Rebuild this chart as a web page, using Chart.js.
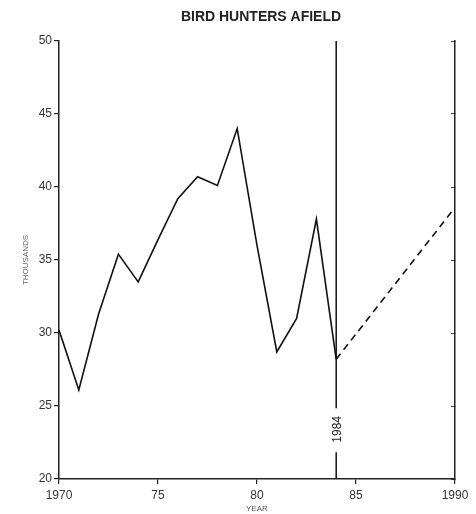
<!DOCTYPE html>
<html>
<head>
<meta charset="utf-8">
<script src="https://cdn.jsdelivr.net/npm/chart.js@4/dist/chart.umd.min.js"></script>
<style>
  body { margin: 0; background: #fff; }
  canvas { display: block; }
</style>
</head>
<body>
<canvas id="hunters-chart" width="476" height="514"></canvas>
<script>
Chart.defaults.font.family = '"Liberation Sans", Arial, sans-serif';
Chart.defaults.color = '#333';

// data
const titleText = 'BIRD HUNTERS AFIELD';
const years = [1970, 1971, 1972, 1973, 1974, 1975, 1976, 1977, 1978, 1979, 1980, 1981, 1982, 1983, 1984];
const hunters = [30.2, 26.1, 31.3, 35.4, 33.5, 36.4, 39.2, 40.7, 40.1, 44.0, 36.0, 28.7, 31.0, 37.8, 28.2];
const projYears = [1984, 1990];
const projHunters = [28.2, 38.6];
const xTicks = [1970, 1975, 1980, 1985, 1990];
const xTickLabels = ['1970', '75', '80', '85', '1990'];
const markerYear = 1984;

const overlay = {
  id: 'overlay',
  afterDraw(chart) {
    const { ctx, chartArea, scales } = chart;
    ctx.save();
    // title
    ctx.font = 'bold 14px "Liberation Sans", Arial, sans-serif';
    ctx.fillStyle = '#222';
    ctx.textAlign = 'center';
    ctx.textBaseline = 'alphabetic';
    ctx.fillText(titleText, (chartArea.left + chartArea.right) / 2 + 4, 21);
    // 1984 line with its label
    const x = scales.x.getPixelForValue(markerYear);
    const yMid = scales.y.getPixelForValue(23.4);
    ctx.strokeStyle = '#111';
    ctx.lineWidth = 1.5;
    ctx.beginPath();
    ctx.moveTo(x, chartArea.top);
    ctx.lineTo(x, yMid - 21);
    ctx.moveTo(x, yMid + 23);
    ctx.lineTo(x, chartArea.bottom);
    ctx.stroke();
    ctx.translate(x, yMid);
    ctx.rotate(-Math.PI / 2);
    ctx.font = '12px "Liberation Sans", Arial, sans-serif';
    ctx.textBaseline = 'middle';
    ctx.fillStyle = '#222';
    ctx.fillText(String(markerYear), 0, 1);
    ctx.restore();
  }
};

const ctx = document.getElementById('hunters-chart');
const chart = new Chart(ctx, {
  type: 'line',
  data: {
    datasets: [
      {
        label: 'Hunters',
        data: years.map((yr, i) => ({ x: yr, y: hunters[i] })),
        borderColor: '#111',
        borderWidth: 1.6,
        pointRadius: 0,
        tension: 0,
        yAxisID: 'y',
      },
      {
        label: 'Projection',
        data: projYears.map((yr, i) => ({ x: yr, y: projHunters[i] })),
        borderColor: '#111',
        borderWidth: 1.6,
        borderDash: [7, 5],
        pointRadius: 0,
        tension: 0,
        yAxisID: 'y',
      },
    ],
  },
  options: {
    responsive: false,
    animation: false,
    layout: { padding: { top: 41, left: 0, right: 0, bottom: 0 } },
    plugins: {
      legend: { display: false },
      tooltip: { enabled: false },
    },
    scales: {
      x: {
        type: 'linear',
        min: 1970,
        max: 1990,
        afterBuildTicks: (scale) => {
          scale.ticks = xTicks.map((v) => ({ value: v }));
        },
        afterFit: (scale) => { scale.height = 35; },
        ticks: {
          font: { size: 12 },
          color: '#333',
          padding: 4,
          maxRotation: 0,
          callback: (value) => xTickLabels[xTicks.indexOf(value)],
        },
        grid: { drawOnChartArea: false, tickLength: 5, color: '#222', lineWidth: 1.2 },
        border: { color: '#222', width: 1.5 },
        title: {
          display: true,
          text: 'YEAR',
          font: { size: 8 },
          color: '#555',
          padding: { top: 0, bottom: 0 },
        },
      },
      y: {
        min: 20,
        max: 50,
        ticks: { stepSize: 5, font: { size: 12 }, color: '#333', padding: 2 },
        afterFit: (scale) => { scale.width = 59; },
        grid: { drawOnChartArea: false, tickLength: 5, color: '#222', lineWidth: 1.2 },
        border: { color: '#222', width: 1.5 },
        title: {
          display: true,
          text: 'THOUSANDS',
          font: { size: 8 },
          color: '#666',
          padding: { top: 21, bottom: 0 },
        },
      },
      y2: {
        position: 'right',
        min: 0,
        max: 6,
        ticks: { stepSize: 1, display: false },
        afterFit: (scale) => { scale.width = 21; },
        grid: { drawOnChartArea: false, tickLength: -4, color: '#444', lineWidth: 1 },
        border: { color: '#222', width: 1.5 },
      },
    },
  },
  plugins: [overlay],
});
</script>
</body>
</html>
